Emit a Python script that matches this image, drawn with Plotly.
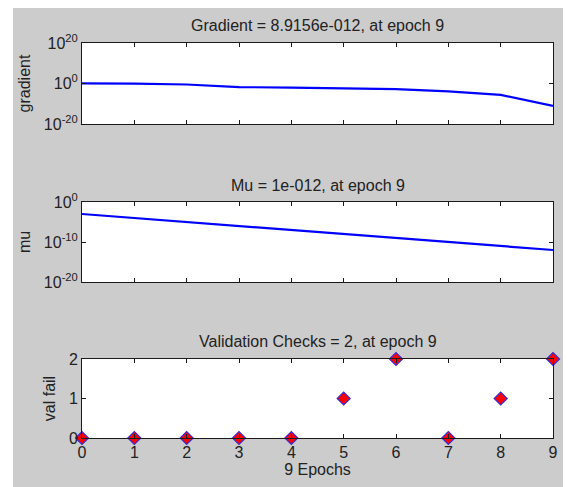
import plotly.graph_objects as go
from plotly.subplots import make_subplots

epochs = [0, 1, 2, 3, 4, 5, 6, 7, 8, 9]
gradient = [1.05, 0.95, 0.32, 0.016, 0.010, 0.0050, 0.0015, 1.2e-4, 2.2e-6, 8.9156e-12]
mu = [1e-3, 1e-4, 1e-5, 1e-6, 1e-7, 1e-8, 1e-9, 1e-10, 1e-11, 1e-12]
val_fail = [0, 0, 0, 0, 0, 1, 2, 0, 1, 2]

titles = ["Gradient = 8.9156e-012, at epoch 9",
          "Mu = 1e-012, at epoch 9",
          "Validation Checks = 2, at epoch 9"]
ylabels = ["gradient", "mu", "val fail"]
xlabel = "9 Epochs"

grad_ticks = [1e-20, 1, 1e20]
grad_ticktext = ["10<sup>-20</sup>", "10<sup>0</sup>", "10<sup>20</sup>"]
mu_ticks = [1e-20, 1e-10, 1]
mu_ticktext = ["10<sup>-20</sup>", "10<sup>-10</sup>", "10<sup>0</sup>"]
val_ticks = [0, 1, 2]

# the page body has an 8px margin; figure coords = screenshot coords - 8
OFF = 8
W, H = 571 - OFF, 487 - OFF
L, R, T, B = 82 - OFF, 18, 43 - OFF, 49
ph = H - T - B
pw = W - L - R

def py(y_screen):
    return (H - B - (y_screen - OFF)) / ph

def px(x_screen):
    return ((x_screen - OFF) - L) / pw

fig = make_subplots(rows=3, cols=1)

fig.add_trace(go.Scatter(x=epochs, y=gradient, mode="lines",
                         line=dict(color="#0000ff", width=2.2)), row=1, col=1)
fig.add_trace(go.Scatter(x=epochs, y=mu, mode="lines",
                         line=dict(color="#0000ff", width=2.2)), row=2, col=1)
fig.add_trace(go.Scatter(x=epochs, y=val_fail, mode="markers", cliponaxis=False,
                         marker=dict(symbol="diamond", size=10, color="#ff0000",
                                     line=dict(color="#3a2bd6", width=1.2))), row=3, col=1)

font_fam = "Liberation Sans, Arial, sans-serif"
axcol = "#1a1a1a"
domains = [(py(124), py(43)), (py(282), py(202)), (py(438), py(359))]

for i in range(3):
    n = "" if i == 0 else str(i + 1)
    fig.layout["xaxis" + n].update(
        domain=[0, 1], range=[0, 9], tickvals=epochs, ticks="inside", ticklen=4,
        tickcolor=axcol, showline=True, linecolor=axcol, linewidth=1, mirror="ticks",
        showgrid=False, zeroline=False, showticklabels=(i == 2), automargin=False,
        tickfont=dict(size=16, color="#222", family=font_fam))
    fig.layout["yaxis" + n].update(
        domain=list(domains[i]), ticks="inside", ticklen=4, tickcolor=axcol,
        showline=True, linecolor=axcol, linewidth=1, mirror="ticks",
        showgrid=False, zeroline=False, automargin=False,
        tickfont=dict(size=16, color="#222", family=font_fam),
        title=dict(text=ylabels[i], standoff=9,
                   font=dict(size=16, color="#222", family=font_fam)))

fig.layout.yaxis.update(type="log", range=[-20, 20], tickvals=grad_ticks, ticktext=grad_ticktext)
fig.layout.yaxis2.update(type="log", range=[-20, 0], tickvals=mu_ticks, ticktext=mu_ticktext)
fig.layout.yaxis3.update(range=[0, 2], tickvals=val_ticks)
fig.layout.xaxis3.update(title=dict(text=xlabel, standoff=1,
                                    font=dict(size=16, color="#222", family=font_fam)))

title_y = [26, 185, 341]
for t, yy in zip(titles, title_y):
    fig.add_annotation(text=t, x=0.5, y=py(yy), xref="paper", yref="paper",
                       showarrow=False, xanchor="center", yanchor="middle",
                       font=dict(size=16, color="#222", family=font_fam))

# white strip at the left edge of the screenshot (body margin gives the first 8px)
fig.add_shape(type="rect", xref="paper", yref="paper", x0=px(0), x1=px(13),
              y0=py(H + 40), y1=py(-20), fillcolor="white", line=dict(width=0))

fig.update_layout(width=W, height=H, margin=dict(l=L, r=R, t=T, b=B),
                  paper_bgcolor="#cccccc", plot_bgcolor="white", showlegend=False,
                  font=dict(family=font_fam, color="#222"))

fig.write_html("out.html")
